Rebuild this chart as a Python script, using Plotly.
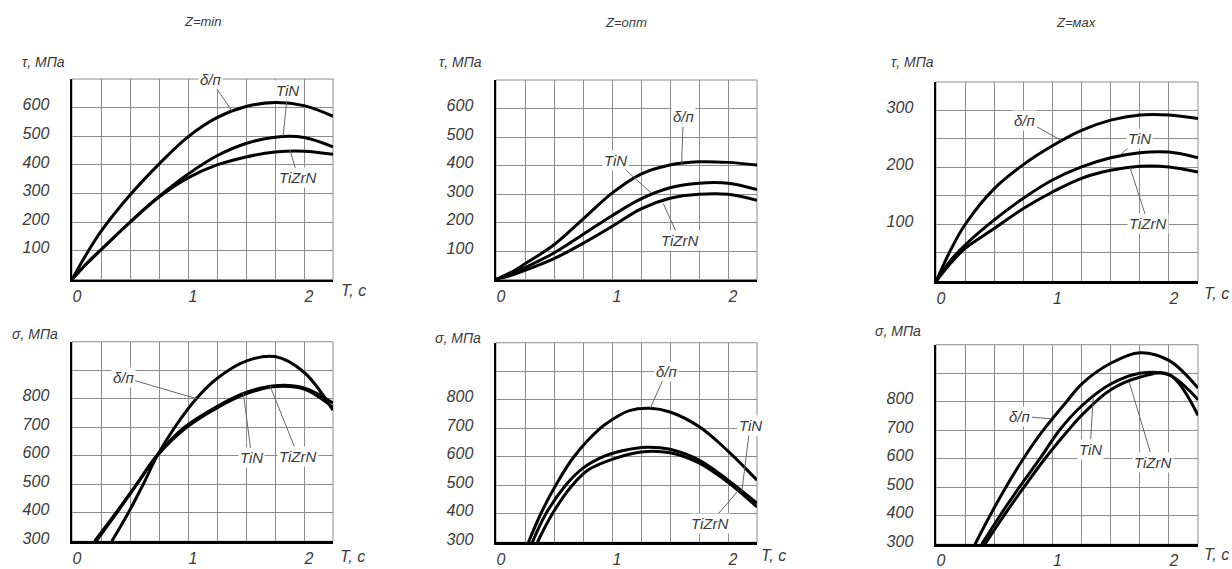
import plotly.graph_objects as go

W, H = 1232, 569

# ---------------- data ----------------
T = [0, 0.125, 0.25, 0.5, 0.75, 1.0, 1.25, 1.5, 1.75, 2.0, 2.25]

# Z = min, shear stress tau (MPa)
tau_min_bp = [0, 89, 168, 295, 403, 498, 565, 604, 618, 607, 570]
tau_min_tin = [0, 55, 104, 200, 290, 368, 432, 475, 497, 496, 463]
tau_min_tizrn = [0, 55, 104, 200, 288, 355, 400, 428, 445, 448, 437]

# Z = min, normal stress sigma (MPa)
sig_min_bp_t = [0.343, 0.486, 0.614, 0.734, 0.886, 1.071, 1.25, 1.5, 1.75, 2.0, 2.25]
sig_min_bp = [300, 400, 500, 600, 700, 800, 871, 932, 948, 893, 760]
sig_min_tin_t = [0.209, 0.386, 0.56, 0.73, 0.97, 1.25, 1.5, 1.75, 2.0, 2.25]
sig_min_tin = [300, 400, 500, 600, 700, 773, 822, 846, 838, 785]
sig_min_tizrn_t = [0.195, 0.38, 0.556, 0.73, 0.98, 1.25, 1.5, 1.75, 2.0, 2.25]
sig_min_tizrn = [300, 400, 500, 598, 697, 768, 817, 843, 834, 770]

# Z = opt
tau_opt_bp = [0, 24, 55, 122, 212, 303, 370, 402, 413, 411, 402]
tau_opt_tin = [0, 19, 42, 93, 158, 224, 283, 322, 338, 338, 316]
tau_opt_tizrn = [0, 14, 32, 73, 127, 186, 248, 285, 299, 299, 278]

sig_opt_bp_t = [0.28, 0.386, 0.515, 0.672, 0.9, 1.0, 1.15, 1.33, 1.5, 1.75, 2.0, 2.25]
sig_opt_bp = [300, 400, 500, 600, 700, 730, 762, 770, 757, 706, 620, 518]
sig_opt_tin_t = [0.314, 0.43, 0.6, 0.75, 0.93, 1.1, 1.3, 1.5, 1.75, 2.0, 2.25]
sig_opt_tin = [300, 400, 500, 560, 601, 622, 633, 626, 588, 518, 437]
sig_opt_tizrn_t = [0.357, 0.486, 0.658, 0.8, 1.0, 1.25, 1.5, 1.75, 2.0, 2.25]
sig_opt_tizrn = [300, 400, 500, 555, 591, 617, 614, 578, 510, 424]

# Z = max
tau_max_bp = [0, 55, 100, 163, 205, 238, 265, 283, 292, 292, 286]
tau_max_tin = [0, 37, 64, 108, 146, 178, 201, 217, 226, 227, 217]
tau_max_tizrn = [0, 32, 58, 93, 128, 157, 181, 195, 202, 201, 192]

sig_max_bp_t = [0.335, 0.463, 0.6, 0.75, 0.921, 1.121, 1.25, 1.5, 1.75, 2.0, 2.25]
sig_max_bp = [300, 400, 500, 600, 700, 800, 862, 935, 972, 945, 848]
sig_max_tin_t = [0.392, 0.549, 0.715, 0.892, 1.06, 1.25, 1.5, 1.75, 2.0, 2.25]
sig_max_tin = [300, 400, 500, 600, 700, 785, 862, 900, 894, 807]
sig_max_tizrn_t = [0.42, 0.583, 0.755, 0.935, 1.136, 1.25, 1.5, 1.75, 2.0, 2.25]
sig_max_tizrn = [300, 400, 500, 600, 700, 752, 842, 886, 896, 752]

# ticks / labels
x_grid = [0, 0.25, 0.5, 0.75, 1.0, 1.25, 1.5, 1.75, 2.0, 2.25]
x_text = ["0", "", "", "", "1", "", "", "", "2", ""]
tau_grid = [0, 100, 200, 300, 400, 500, 600, 700]
tau_text = ["", "100", "200", "300", "400", "500", "600", ""]
taumax_grid = [0, 50, 100, 150, 200, 250, 300, 350]
taumax_text = ["", "", "100", "", "200", "", "300", ""]
sig_grid = [300, 400, 500, 600, 700, 800, 900, 1000]
sig_text = ["300", "400", "500", "600", "700", "800", "", ""]

titles = ["Z=min", "Z=опт", "Z=мах"]
labels = ["δ/п", "TiN", "TiZrN"]

# ---------------- style ----------------
FONT = "Liberation Sans, Arial, sans-serif"
TXT = "#3a3a3a"
GRID = "#8c8c8c"
LEAD = "#666666"

fig = go.Figure()

# panel geometry in pixels: (left, right, top, bottom)
panels = [
    (1, 72, 333, 80, 283), (2, 496, 757, 81, 283), (3, 936, 1198, 83, 285),
    (4, 72, 333, 346, 548), (5, 496, 757, 347, 549), (6, 936, 1198, 349, 551),
]

curves = {
    1: [(T, tau_min_bp), (T, tau_min_tin), (T, tau_min_tizrn)],
    2: [(T, tau_opt_bp), (T, tau_opt_tin), (T, tau_opt_tizrn)],
    3: [(T, tau_max_bp), (T, tau_max_tin), (T, tau_max_tizrn)],
    4: [(sig_min_bp_t, sig_min_bp), (sig_min_tin_t, sig_min_tin), (sig_min_tizrn_t, sig_min_tizrn)],
    5: [(sig_opt_bp_t, sig_opt_bp), (sig_opt_tin_t, sig_opt_tin), (sig_opt_tizrn_t, sig_opt_tizrn)],
    6: [(sig_max_bp_t, sig_max_bp), (sig_max_tin_t, sig_max_tin), (sig_max_tizrn_t, sig_max_tizrn)],
}

yspec = {
    1: ([0, 700], tau_grid, tau_text),
    2: ([0, 700], tau_grid, tau_text),
    3: ([0, 350], taumax_grid, taumax_text),
    4: ([300, 1000], sig_grid, sig_text),
    5: ([300, 1000], sig_grid, sig_text),
    6: ([300, 1000], sig_grid, sig_text),
}

tickfont = dict(family=FONT, size=16, color=TXT, style="italic")

for idx, l, r, t, b in panels:
    sfx = "" if idx == 1 else str(idx)
    xa, ya = "x" + sfx, "y" + sfx
    for (xs, ys), name in zip(curves[idx], labels):
        fig.add_trace(go.Scatter(
            x=xs, y=ys, mode="lines", name=name, xaxis=xa, yaxis=ya,
            line=dict(color="black", width=3, shape="spline", smoothing=1.0),
            hoverinfo="skip", showlegend=False))
    yr, yt, ytt = yspec[idx]
    fig.layout["xaxis" + sfx] = dict(
        domain=[l / W, r / W], anchor=ya, range=[0, 2.25],
        tickvals=x_grid, ticktext=x_text, showgrid=True, gridcolor=GRID, gridwidth=1,
        zeroline=False, showline=True, linecolor="black", linewidth=2.5,
        ticks="", tickfont=tickfont, ticklabelshift=5,
        ticklabelstandoff=0 if idx == 6 else 1,
        fixedrange=True)
    fig.layout["yaxis" + sfx] = dict(
        domain=[1 - b / H, 1 - t / H], anchor=xa, range=yr,
        tickvals=yt, ticktext=ytt, showgrid=True, gridcolor=GRID, gridwidth=1,
        zeroline=False, showline=True, linecolor="black", linewidth=2.5,
        ticks="", tickfont=tickfont, ticklabelshift=-3, ticklabelstandoff=17,
        fixedrange=True)
    fig.add_shape(type="rect", xref=xa + " domain", yref=ya + " domain",
                  x0=0, x1=1, y0=0, y1=1, line=dict(color=GRID, width=1),
                  layer="below")

# ---------------- labels with leader lines ----------------
# (panel, text, text_x, text_y, point_x, point_y)
leaders = [
    (1, "δ/п", 1.19, 700, 1.38, 588),
    (1, "TiN", 1.86, 660, 1.82, 500),
    (1, "TiZrN", 1.95, 355, 1.88, 451),
    (4, "δ/п", 0.44, 876, 1.075, 800),
    (4, "TiN", 1.55, 593, 1.477, 820),
    (4, "TiZrN", 1.95, 599, 1.707, 845),
    (2, "δ/п", 1.615, 571, 1.60, 408),
    (2, "TiN", 1.026, 418, 1.343, 302),
    (2, "TiZrN", 1.586, 137, 1.443, 266),
    (5, "δ/п", 1.471, 900, 1.33, 770),
    (5, "TiN", 2.19, 710, 2.12, 480),
    (5, "TiZrN", 1.845, 366, 2.09, 482),
    (3, "δ/п", 0.764, 283, 1.08, 247),
    (3, "TiN", 1.746, 251, 1.58, 222),
    (3, "TiZrN", 1.823, 101, 1.666, 200),
    (6, "δ/п", 0.721, 749, 0.99, 740),
    (6, "TiN", 1.323, 634, 1.35, 815),
    (6, "TiZrN", 1.866, 588, 1.66, 868),
]
for p, txt, tx, ty, px, py in leaders:
    sfx = "" if p == 1 else str(p)
    fig.add_annotation(
        x=px, y=py, ax=tx, ay=ty, xref="x" + sfx, yref="y" + sfx,
        axref="x" + sfx, ayref="y" + sfx, text=txt, showarrow=True,
        arrowhead=0, arrowwidth=1, arrowcolor=LEAD, standoff=0,
        bgcolor="white", borderpad=1,
        font=dict(family=FONT, size=15, color=TXT, style="italic"))

# ---------------- titles and axis names ----------------
def ptext(txt, px, py, size):
    fig.add_annotation(x=px / W, y=1 - py / H, xref="paper", yref="paper",
                       text=txt, showarrow=False, xanchor="center", yanchor="middle",
                       font=dict(family=FONT, size=size, color=TXT, style="italic"))

ptext(titles[0], 202, 22, 13)
ptext(titles[1], 626, 23, 13)
ptext(titles[2], 1076, 23, 13)

ptext("τ, МПа", 43, 63, 14)
ptext("τ, МПа", 460, 63, 14)
ptext("τ, МПа", 912, 63, 14)
ptext("σ, МПа", 35, 338, 14)
ptext("σ, МПа", 458, 342, 14)
ptext("σ, МПа", 898, 335, 14)
ptext("T, с", 353, 294, 16)
ptext("T, с", 352, 563, 16)
ptext("T, с", 773, 562, 16)
ptext("T, с", 1216, 297, 16)
ptext("T, с", 1216, 561, 16)

fig.update_layout(width=W, height=H, margin=dict(l=0, r=0, t=0, b=0),
                  paper_bgcolor="white", plot_bgcolor="white", showlegend=False)

fig.write_html("out.html",
               config={"displayModeBar": False, "staticPlot": True},
               post_script="document.body.style.margin='0px';"
                           "document.body.style.overflow='hidden';")
